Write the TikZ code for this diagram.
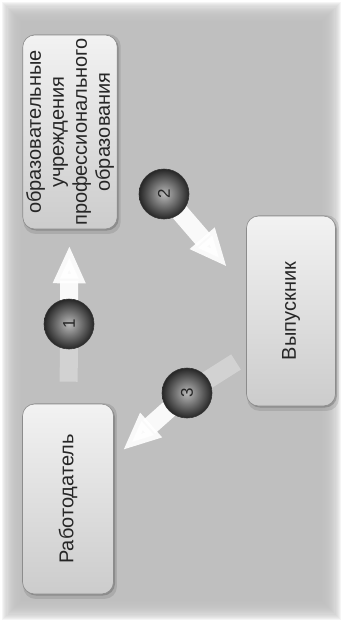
\documentclass[tikz,border=0pt]{standalone}
\usepackage{fontspec}
\setmainfont{Liberation Sans}
\usetikzlibrary{arrows.meta,shadows}

\definecolor{bg}{gray}{0.75}
\definecolor{boxlight}{gray}{0.95}
\definecolor{boxdark}{gray}{0.80}
\definecolor{ink}{gray}{0.15}

\tikzset{
  block/.style={rotate=90, rounded corners=12pt, draw=black!45, line width=0.6pt,
    top color=boxlight, bottom color=boxdark, text=ink, align=center,
    font=\fontsize{20}{23}\selectfont,
    general shadow={fill=black, opacity=0.10, shadow xshift=2pt, shadow yshift=-2pt, shadow scale=1.03},
    general shadow={fill=black, opacity=0.18, shadow xshift=1.5pt, shadow yshift=-1.5pt}},
  ball/.style={circle, rotate=90, minimum size=50pt, inner sep=0pt,
    inner color=gray!55, outer color=black!85, draw=black!80, line width=0.6pt,
    text=ink, font=\fontsize{17}{17}\selectfont},
  bright/.style={draw=white, line width=18pt, opacity=0.92,
    -{Triangle[width=30pt, length=38pt]}},
  faint/.style={draw=white, line width=18pt, opacity=0.3},
}

\begin{document}
\begin{tikzpicture}[x=1pt, y=-1pt]
  \useasboundingbox (0,0) rectangle (343,622);

  % paper with a soft-edged grey field
  \fill[white] (0,0) rectangle (343,622);
  \foreach \i in {0,...,21}
    \fill[bg, opacity=0.15] (2+1.1*\i, 2+1.1*\i) rectangle (341-1.1*\i, 620-1.1*\i);
  \fill[bg] (26,26) rectangle (317,596);

  % participants
  \node[block, minimum width=194pt, minimum height=91pt] (edu) at (70,132)
    {образовательные\\учреждения\\профессионального\\образования};
  \node[block, minimum width=190pt, minimum height=91pt] (emp) at (68,499) {Работодатель};
  \node[block, minimum width=190pt, minimum height=89pt] (vyp) at (291,311) {Выпускник};

  % marker positions and free ends of the arrows
  \coordinate (p1) at (69,324);
  \coordinate (p2) at (164,194);
  \coordinate (p3) at (187,393);
  \coordinate (t2) at (227,267);
  \coordinate (s3) at (236,362);

  % arrows
  \draw[faint, shorten <=22pt] (emp) -- (p1);
  \draw[bright, shorten >=16pt] (p1) -- (edu);
  \draw[bright] (p2) -- (t2);
  \draw[faint] (s3) -- (p3);
  \draw[bright, shorten >=12pt] (p3) -- (emp);

  % step markers on top of the arrows
  \node[ball] (c1) at (p1) {1};
  \node[ball] (c2) at (p2) {2};
  \node[ball] (c3) at (p3) {3};
\end{tikzpicture}
\end{document}
